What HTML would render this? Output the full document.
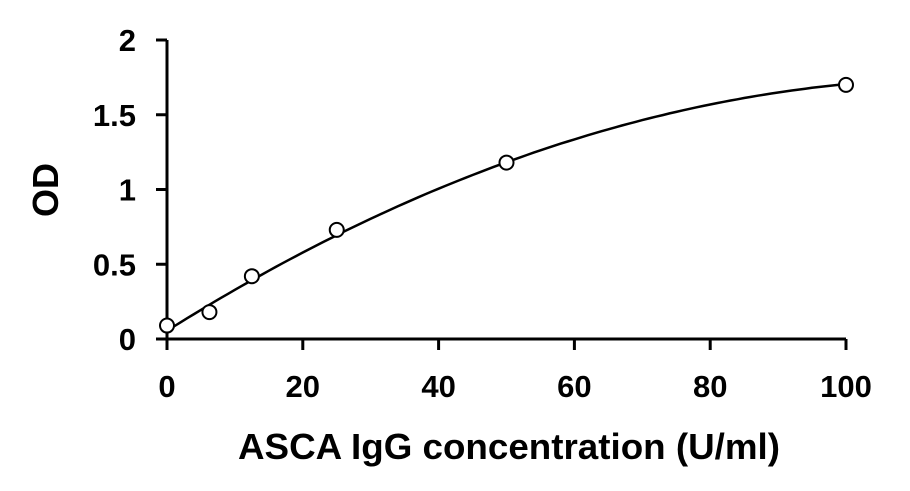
<!DOCTYPE html>
<html><head><meta charset="utf-8"><style>
html,body{margin:0;padding:0;background:#fff;}
svg text{font-family:"Liberation Sans",sans-serif;font-weight:bold;fill:#000;}
</style></head><body>
<svg id="chart" width="910" height="486" xmlns="http://www.w3.org/2000/svg">
<g id="axes"></g><g id="series"></g>
<text transform="translate(58,190) rotate(-90)" text-anchor="middle" font-size="36">OD</text>
<text x="509" y="459" text-anchor="middle" font-size="36" textLength="542" lengthAdjust="spacingAndGlyphs">ASCA IgG concentration (U/ml)</text>
</svg>
<script>
const xVals=[0,6.25,12.5,25,50,100];
const yVals=[0.09,0.18,0.42,0.73,1.18,1.70];
const xTicks=[0,20,40,60,80,100];
const yTicks=[0,0.5,1,1.5,2];
const yTickLabels=["0","0.5","1","1.5","2"];
const fitCoef=[0.055,0.0286,-0.000121];
const NS="http://www.w3.org/2000/svg";
const sx=v=>167+v*(846-167)/100;
const sy=v=>339-v*(339-40)/2;
const axes=document.getElementById('axes'),series=document.getElementById('series');
function mk(tag,attrs,parent){const e=document.createElementNS(NS,tag);for(const k in attrs)e.setAttribute(k,attrs[k]);parent.appendChild(e);return e;}
let a=mk('line',{x1:167,y1:40,x2:167,y2:339,stroke:'#000','stroke-width':3},axes);


a=mk('line',{x1:156,y1:339,x2:846,y2:339,stroke:'#000','stroke-width':3},axes);


yTicks.forEach((v,i)=>{
 const t=mk('line',{x1:156,y1:sy(v),x2:167,y2:sy(v),stroke:'#000','stroke-width':3},axes);
 
 
 const l=mk('text',{x:136,y:sy(v)+11,'text-anchor':'end','font-size':31},axes);
 l.textContent=yTickLabels[i];
 
 
});
xTicks.forEach(v=>{
 const t=mk('line',{x1:sx(v),y1:339,x2:sx(v),y2:350,stroke:'#000','stroke-width':3},axes);
 
 
 const l=mk('text',{x:sx(v),y:397,'text-anchor':'middle','font-size':31},axes);
 l.textContent=String(v);
 
 
});
let d='';
for(let x=0;x<=100;x+=1){const y=fitCoef[0]+fitCoef[1]*x+fitCoef[2]*x*x;d+=(x?'L':'M')+sx(x).toFixed(1)+','+sy(y).toFixed(1);}
const c=mk('path',{d:d,fill:'none',stroke:'#000','stroke-width':2.5},series);


xVals.forEach((x,i)=>{
 const p=mk('circle',{cx:sx(x),cy:sy(yVals[i]),r:7,fill:'#fff',stroke:'#000','stroke-width':2},series);
 
 
});
</script>
</body></html>
